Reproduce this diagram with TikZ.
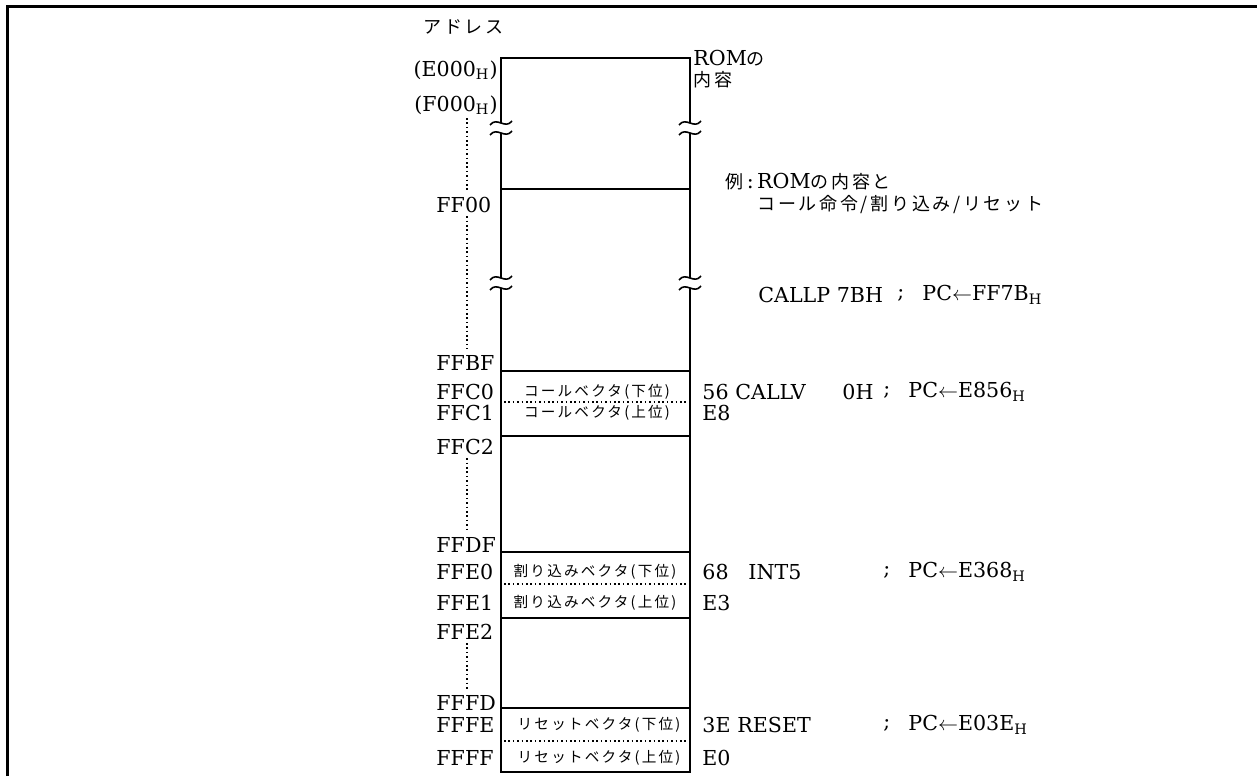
\documentclass[tikz,border=0pt]{standalone}
\usepackage{fontspec}
\setmainfont{DejaVu Serif}
\newfontfamily\jp{Noto Sans CJK JP}
\newcommand\J[1]{{\jp #1}}
\newcommand\hexfont{\fontsize{10.3}{12}\selectfont}
\newcommand\vecfont{\jp\fontsize{7.3}{9}\selectfont\addfontfeature{LetterSpace=15}}
\newcommand\jpfont{\jp\fontsize{9}{11}\selectfont\addfontfeature{LetterSpace=15}}
\newcommand\brkmark[2]{\draw[box] (#1-11,#2+2) .. controls (#1-4,#2-7) and (#1+4,#2+7) .. (#1+11,#2-2);}
\begin{document}
\begin{tikzpicture}[x=0.5pt,y=-0.5pt,
  hex/.style={anchor=west,inner sep=0pt,font=\hexfont},
  hexr/.style={anchor=east,inner sep=0pt,font=\hexfont},
  vec/.style={inner sep=0pt,font=\vecfont},
  jtxt/.style={anchor=west,inner sep=0pt,font=\jpfont},
  box/.style={line width=0.8pt},
  dotl/.style={line width=0.8pt,dash pattern=on 0.8pt off 1.4pt,shorten <=1.5pt,shorten >=3pt},
  dotv/.style={line width=0.8pt,dash pattern=on 0.8pt off 1.4pt}]
\useasboundingbox (0,0) rectangle (1257,776);
% frame
\draw[line width=1.5pt] (7,776) -- (7,6) -- (1257,6);
% memory box
\draw[box] (501,123) -- (501,58) -- (690,58) -- (690,123);
\draw[box] (501,133) -- (501,278);
\draw[box] (690,133) -- (690,278);
\draw[box] (501,288) -- (501,772) -- (690,772) -- (690,288);
\brkmark{501}{123}\brkmark{501}{133}\brkmark{690}{123}\brkmark{690}{133}
\brkmark{501}{278}\brkmark{501}{288}\brkmark{690}{278}\brkmark{690}{288}
\foreach \yy in {189,371,436,552,618,708} \draw[box] (501,\yy) -- (690,\yy);
\foreach \yy in {402,584,741} \draw[dotv] (504,\yy) -- (687,\yy);
% header
\node[jtxt] (addr) at (423,27) {アドレス};
\node[hexr] (lE000) at (498,70) {(E000\textsubscript{H})};
\node[hexr] (lF000) at (498,105) {(F000\textsubscript{H})};
\node[anchor=west,inner sep=0pt,font=\hexfont] (rom1) at (693,58) {ROM{\jpfont の}};
\node[jtxt] (rom2) at (693,80) {内容};
% addresses
\node[hex] (lFF00) at (436,205) {FF00};
\node[hex] (lFFBF) at (436,363) {FFBF};
\node[hex] (lFFC0) at (436,392) {FFC0};
\node[hex] (lFFC1) at (436,413) {FFC1};
\node[hex] (lFFC2) at (436,447) {FFC2};
\node[hex] (lFFDF) at (436,545) {FFDF};
\node[hex] (lFFE0) at (436,572) {FFE0};
\node[hex] (lFFE1) at (436,603) {FFE1};
\node[hex] (lFFE2) at (436,632) {FFE2};
\node[hex] (lFFFD) at (436,703) {FFFD};
\node[hex] (lFFFE) at (436,725) {FFFE};
\node[hex] (lFFFF) at (436,758) {FFFF};
\coordinate (dx) at (467,0);
\draw[dotl] (dx |- lF000.south) -- (dx |- lFF00.north);
\draw[dotl] (dx |- lFF00.south) -- (dx |- lFFBF.north);
\draw[dotl] (dx |- lFFC2.south) -- (dx |- lFFDF.north);
\draw[dotl] (dx |- lFFE2.south) -- (dx |- lFFFD.north);
% vectors
\node[vec] (v1) at (597,392) {コールベクタ(下位)};
\node[vec] (v2) at (597,413) {コールベクタ(上位)};
\node[vec] (v3) at (595,572) {割り込みベクタ(下位)};
\node[vec] (v4) at (595,603) {割り込みベクタ(上位)};
\node[vec] (v5) at (599,725) {リセットベクタ(下位)};
\node[vec] (v6) at (599,758) {リセットベクタ(上位)};
% example text
\node[anchor=west,inner sep=0pt,font=\hexfont] (ex1) at (725,182) {{\jpfont 例}\,:\,ROM{\jpfont の内容と}};
\node[jtxt] (ex2) at (757,205) {コール命令/割り込み/リセット};
\node[hex] (c1a) at (758,295) {CALLP 7BH};
\node[hex] (c1b) at (897,295) {;};
\node[hex] (c1c) at (922,295) {PC$\leftarrow$FF7B\textsubscript{H}};
\node[hex] (c2a) at (702,392) {56};
\node[hex] (c2b) at (735,392) {CALLV};
\node[hex] (c2c) at (842,392) {0H};
\node[hex] (c2d) at (883,392) {;};
\node[hex] (c2e) at (908,392) {PC$\leftarrow$E856\textsubscript{H}};
\node[hex] (e8) at (702,413) {E8};
\node[hex] (c3a) at (702,572) {68};
\node[hex] (c3b) at (748,572) {INT5};
\node[hex] (c3d) at (883,572) {;};
\node[hex] (c3e) at (908,572) {PC$\leftarrow$E368\textsubscript{H}};
\node[hex] (e3) at (702,603) {E3};
\node[hex] (c4a) at (702,725) {3E};
\node[hex] (c4b) at (737,725) {RESET};
\node[hex] (c4d) at (883,725) {;};
\node[hex] (c4e) at (908,725) {PC$\leftarrow$E03E\textsubscript{H}};
\node[hex] (e0) at (702,758) {E0};
\end{tikzpicture}
\end{document}
